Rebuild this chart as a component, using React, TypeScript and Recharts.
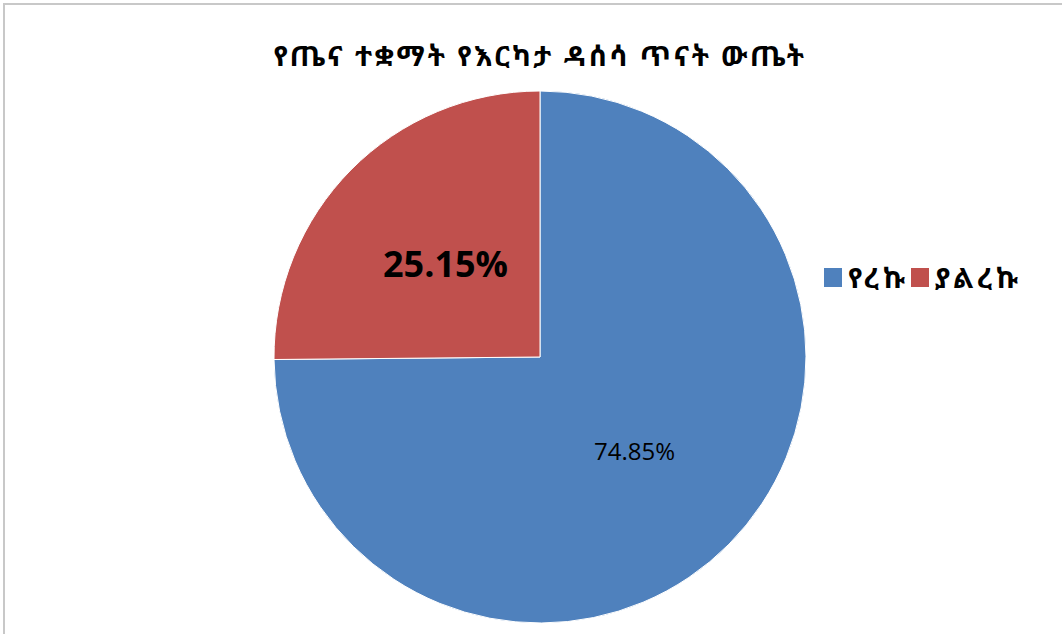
import { PieChart, Pie, Cell, Legend } from "recharts"

const title = "የጤና ተቋማት የእርካታ ዳሰሳ ጥናት ውጤት"
const categories = ["የረኩ", "ያልረኩ"]
const values = [74.85, 25.15]
const colors = ["#4F81BD", "#C0504D"]

const data = categories.map((name, i) => ({ name, value: values[i] }))

const RAD = Math.PI / 180

function renderLabel(props: any) {
  const { cx, cy, midAngle, outerRadius, index, value } = props
  const r = outerRadius * 0.5
  const x = cx + r * Math.cos(-midAngle * RAD)
  const y = cy + r * Math.sin(-midAngle * RAD)
  const big = index === 1
  return (
    <text
      x={x}
      y={y}
      textAnchor="middle"
      dominantBaseline="central"
      fill="#000"
      fontSize={big ? 36 : 24}
      fontWeight={big ? 700 : 400}
      fontFamily="'Open Sans', sans-serif"
    >
      {value.toFixed(2)}%
    </text>
  )
}

function LegendContent() {
  return (
    <div style={{ display: "flex", alignItems: "center", fontSize: 28, letterSpacing: 4, fontWeight: 700, fontFamily: "'Noto Sans Ethiopic', 'Noto Sans', sans-serif", color: "#000" }}>
      {categories.map((c, i) => (
        <div key={c} style={{ display: "flex", alignItems: "center", marginRight: 2 }}>
          <span style={{ width: 18, height: 19, background: colors[i], display: "inline-block", marginRight: 6 }} />
          <span>{c}</span>
        </div>
      ))}
    </div>
  )
}

export default function App() {
  return (
    <div style={{ position: "absolute", left: 0, top: 0, width: 1062, height: 634, background: "#fff", overflow: "hidden" }}>
      <div style={{ position: "absolute", left: 3, top: 3, width: 1070, height: 640, border: "2px solid #c8c8c8", boxSizing: "border-box" }} />
      <div
        style={{
          position: "absolute",
          left: 0,
          top: 36,
          width: 1080,
          textAlign: "center",
          fontSize: 28,
          fontWeight: 700,
          fontFamily: "'Noto Sans Ethiopic', 'Noto Sans', sans-serif",
          color: "#000",
          letterSpacing: 2.5,
        }}
      >
        {title}
      </div>
      <PieChart width={1062} height={634} margin={{ top: 0, right: 0, bottom: 0, left: 0 }} style={{ position: "absolute", left: 0, top: 0 }}>
        <Pie
          data={data}
          dataKey="value"
          nameKey="name"
          cx={540}
          cy={357}
          outerRadius={266}
          startAngle={90}
          endAngle={-270}
          stroke="#fff"
          strokeWidth={1}
          label={renderLabel}
          labelLine={false}
          isAnimationActive={false}
        >
          {data.map((d, i) => (
            <Cell key={d.name} fill={colors[i]} />
          ))}
        </Pie>
        <Legend
          content={<LegendContent />}
          layout="vertical"
          verticalAlign="middle"
          align="right"
          wrapperStyle={{ left: 824, top: 258, width: 240 }}
        />
      </PieChart>
    </div>
  )
}
